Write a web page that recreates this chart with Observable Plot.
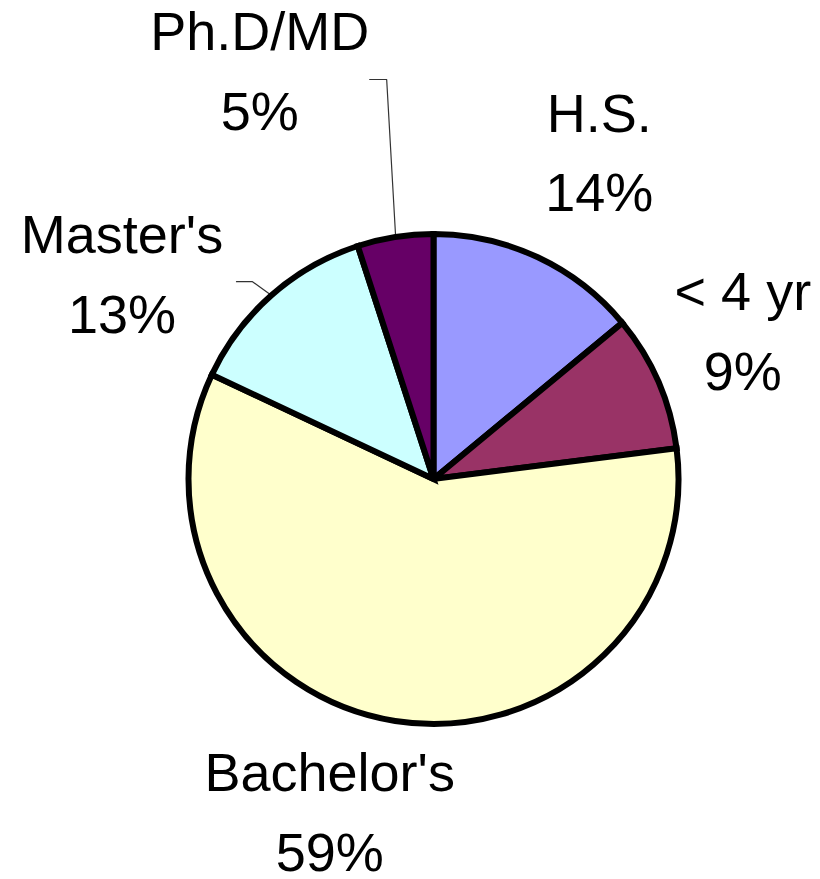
<!DOCTYPE html>
<html><head><meta charset="utf-8">
<script src="https://cdn.jsdelivr.net/npm/d3@7"></script>
<script src="https://cdn.jsdelivr.net/npm/@observablehq/plot@0.6"></script>
<style>body{margin:0;background:#fff}</style>
</head><body><div id="chart"></div>
<script>
// ---- data ----
const categories = ["H.S.", "< 4 yr", "Bachelor's", "Master's", "Ph.D/MD"];
const shares = [14, 9, 59, 13, 5];

// ---- style / layout ----
const sliceColors = ["#9999ff", "#993366", "#ffffcc", "#ccffff", "#660066"];
// label offsets (px) from each slice's outer mid-point
const labelOffsets = [[61, -183], [84, -129], [-66, 13], [-150, -99], [-136, -244]];
// leader line elbows (px) from slice outer mid-point
const leaderOffsets = {
  "Master's": [[0, 0], [-19.5, -14], [-35.5, -14]],
  "Ph.D/MD": [[0, 0], [-9, -158], [-26, -158]]
};

const W = 820, H = 879, R = 245, CX = 433.5, CY = 479;

const data = categories.map((c, i) => ({category: c, share: shares[i]}));
const arcs = d3.pie().sort(null).value(d => d.share)(data);
arcs.forEach(a => {
  const m = (a.startAngle + a.endAngle) / 2;
  a.ex = Math.sin(m);
  a.ey = Math.cos(m);
});
const labels = arcs.map((a, i) => ({
  text: `${a.data.category}\n${a.data.share}%`,
  x: a.ex + labelOffsets[i][0] / R,
  y: a.ey - labelOffsets[i][1] / R
}));
const leaders = arcs
  .filter(a => leaderOffsets[a.data.category])
  .flatMap(a => leaderOffsets[a.data.category].map(([dx, dy]) => ({
    cat: a.data.category, x: a.ex + dx / R, y: a.ey - dy / R
  })));

function pieMark(index, scales) {
  const cx = scales.x(0), cy = scales.y(0), r = scales.x(1) - scales.x(0);
  const arc = d3.arc().innerRadius(0).outerRadius(r);
  const g = d3.create("svg:g").attr("transform", `translate(${cx},${cy})`);
  g.selectAll("path").data(arcs).join("path")
    .attr("d", arc)
    .attr("fill", (d, i) => sliceColors[i])
    .attr("stroke", "#000")
    .attr("stroke-width", 6)
    .attr("stroke-linejoin", "miter");
  return g.node();
}

const chart = Plot.plot({
  width: W,
  height: H,
  margin: 0,
  x: {domain: [-CX / R, (W - CX) / R], axis: null},
  y: {domain: [-(H - CY) / R, CY / R], axis: null},
  style: {fontFamily: "'Liberation Sans', Arial, sans-serif", background: "#fff"},
  marks: [
    Plot.line(leaders, {x: "x", y: "y", z: "cat", stroke: "#333", strokeWidth: 1.2}),
    pieMark,
    Plot.text(labels, {
      x: "x", y: "y", text: "text",
      lineAnchor: "top", lineHeight: 1.48,
      fontSize: 54, fill: "#000", textAnchor: "middle"
    })
  ]
});
document.getElementById("chart").appendChild(chart);
</script>
</body></html>
